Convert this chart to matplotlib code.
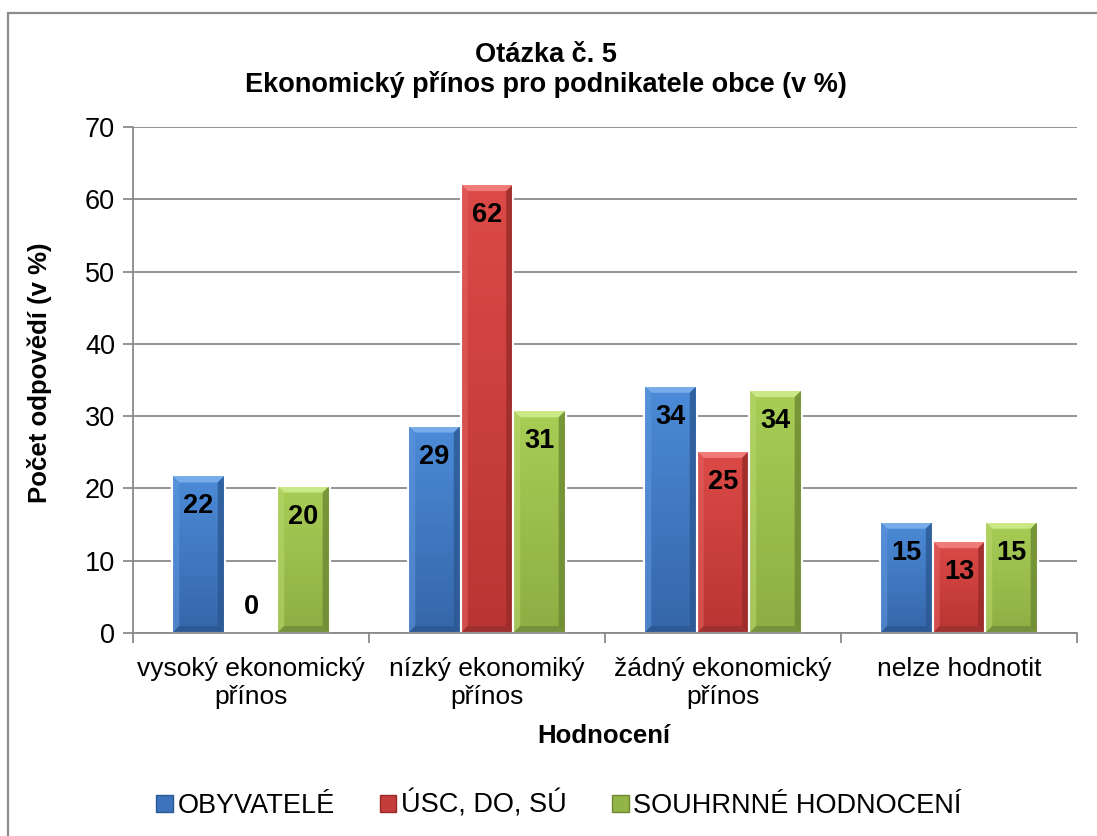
import numpy as np
import matplotlib
matplotlib.use("Agg")
import matplotlib.pyplot as plt
from matplotlib.patches import Rectangle, Polygon, Patch
from matplotlib.colors import LinearSegmentedColormap, to_rgb

# --- data ---------------------------------------------------------------
categories = ["vysoký ekonomický\npřínos", "nízký ekonomiký\npřínos",
              "žádný ekonomický\npřínos", "nelze hodnotit"]
series_names = ["OBYVATELÉ", "ÚSC, DO, SÚ", "SOUHRNNÉ HODNOCENÍ"]
obyvatele = [21.8, 28.7, 34.2, 15.4]
usc = [0.0, 62.1, 25.2, 12.7]
souhrnne = [20.4, 30.8, 33.6, 15.4]
y_ticks = [0, 10, 20, 30, 40, 50, 60, 70]

title = "Otázka č. 5\nEkonomický přínos pro podnikatele obce (v %)"
y_title = "Počet odpovědí (v %)"
x_title = "Hodnocení"

# colours: face-top, face-bottom, top bevel, left bevel, right bevel, bottom bevel
palettes = [
    dict(top="#4c8bd8", bot="#3566a9", btop="#77acea", bleft="#5d95dc",
         bright="#2b5893", bbot="#2c5690", legend="#3d73bd"),
    dict(top="#dc4a47", bot="#b93533", btop="#f07a77", bleft="#e0605d",
         bright="#962a28", bbot="#98302e", legend="#c53c3a"),
    dict(top="#a8cd55", bot="#8eae44", btop="#cbe886", bleft="#b6d66a",
         bright="#6d8833", bbot="#718b38", legend="#93b548"),
]

W, H, DPI = 1097, 836, 100
plt.rcParams["font.family"] = ["Liberation Sans", "DejaVu Sans"]

fig = plt.figure(figsize=(W / DPI, H / DPI), dpi=DPI)
fig.patch.set_facecolor("white")

# outer chart frame
fig.patches.append(Rectangle((8 / W, -0.2), 1.3, 1.2 - 12.7 / H,
                             transform=fig.transFigure, fill=False,
                             edgecolor="#8c8c8c", linewidth=1.6))

left_px, right_px, top_px, bottom_px = 133, 1077, 127, 633
ax = fig.add_axes([left_px / W, 1 - bottom_px / H,
                   (right_px - left_px) / W, (bottom_px - top_px) / H])

ylim = (0, 70)
xlim = (-0.5, len(categories) - 0.5)
ax.set_xlim(*xlim)
ax.set_ylim(*ylim)

# pixel -> data conversion for bevel sizes
px_x = (xlim[1] - xlim[0]) / (right_px - left_px)
px_y = (ylim[1] - ylim[0]) / (bottom_px - top_px)

n = len(series_names)
bar_w = 1.0 / (n + 1.5)
x = np.arange(len(categories))
all_series = [obyvatele, usc, souhrnne]

ax.set_axisbelow(True)
ax.yaxis.grid(True, color="#8a8a8a", linewidth=1.3)
ax.set_yticks(y_ticks)

bev = 7  # bevel in pixels

for si, (vals, pal) in enumerate(zip(all_series, palettes)):
    offs = (si - (n - 1) / 2) * bar_w
    bars = ax.bar(x + offs, vals, width=bar_w, color=pal["top"],
                  edgecolor="white", linewidth=1.5, zorder=2)
    cmap = LinearSegmentedColormap.from_list("g", [to_rgb(pal["bot"]), to_rgb(pal["top"])])
    for b, v in zip(bars, vals):
        x0, y0 = b.get_x(), b.get_y()
        w, h = b.get_width(), b.get_height()
        if h <= 0:
            continue
        grad = np.linspace(0, 1, 64).reshape(-1, 1)
        im = ax.imshow(grad, cmap=cmap, origin="lower", aspect="auto",
                       extent=(x0, x0 + w, y0, y0 + h), zorder=2.1)
        im.set_clip_path(b)
        bx, by = bev * px_x, min(bev * px_y, h / 2)
        x1, y1 = x0 + w, y0 + h
        ax.add_patch(Polygon([(x0, y1), (x1, y1), (x1 - bx, y1 - by), (x0 + bx, y1 - by)],
                             closed=True, facecolor=pal["btop"], edgecolor="none", zorder=2.2))
        ax.add_patch(Polygon([(x0, y0), (x0 + bx, y0 + by), (x0 + bx, y1 - by), (x0, y1)],
                             closed=True, facecolor=pal["bleft"], edgecolor="none",
                             alpha=0.6, zorder=2.2))
        ax.add_patch(Polygon([(x1, y0), (x1, y1), (x1 - bx, y1 - by), (x1 - bx, y0 + by)],
                             closed=True, facecolor=pal["bright"], edgecolor="none",
                             alpha=0.8, zorder=2.2))
        ax.add_patch(Polygon([(x0, y0), (x1, y0), (x1 - bx, y0 + by), (x0 + bx, y0 + by)],
                             closed=True, facecolor=pal["bbot"], edgecolor="none",
                             alpha=0.8, zorder=2.2))
        ax.add_patch(Rectangle((x0, y0), w, h, fill=False, edgecolor="white",
                               linewidth=1.5, zorder=2.3))
    # value labels just inside the bar top
    for b, v in zip(bars, vals):
        cx = b.get_x() + b.get_width() / 2
        top = b.get_height()
        off = -31 if top / px_y > 50 else 26
        ax.annotate(f"{v:.0f}", (cx, top), xytext=(0, off), textcoords="offset pixels",
                    ha="center", va="center", fontsize=19.5, fontweight="bold",
                    color="black", zorder=5)

# axes styling
for s in ("top", "right"):
    ax.spines[s].set_visible(False)
for s in ("left", "bottom"):
    ax.spines[s].set_color("#8a8a8a")
    ax.spines[s].set_linewidth(1.3)
    ax.spines[s].set_zorder(3)

ax.tick_params(axis="y", direction="out", length=7, width=1.3, color="#8a8a8a",
               labelsize=19.5, pad=6)
ax.set_xticks(np.arange(len(categories) + 1) - 0.5)
ax.set_xticklabels([])
ax.tick_params(axis="x", which="major", direction="out", length=7, width=1.3, color="#8a8a8a")
ax.set_xticks(x, minor=True)
ax.set_xticklabels(categories, minor=True, fontsize=19, linespacing=1.25)
ax.tick_params(axis="x", which="minor", length=0, pad=17)

fig.text(546 / W, 1 - 70 / H, title, ha="center", va="center", fontsize=19.5,
         fontweight="bold", linespacing=1.15)
fig.text(40 / W, 1 - 373 / H, y_title, ha="center", va="center", rotation=90,
         fontsize=18.5, fontweight="bold")
fig.text(604 / W, 1 - 736 / H, x_title, ha="center", va="center",
         fontsize=18.5, fontweight="bold")

handles = [Patch(facecolor=p["legend"], edgecolor=p["bright"], linewidth=1) for p in palettes]
fig.legend(handles, series_names, loc="center", bbox_to_anchor=(559 / W, 1 - 805 / H),
           ncol=3, frameon=False, fontsize=19.5, handlelength=0.62, handleheight=0.62,
           handletextpad=0.18, columnspacing=1.65)

fig.savefig("out.png", dpi=DPI)
